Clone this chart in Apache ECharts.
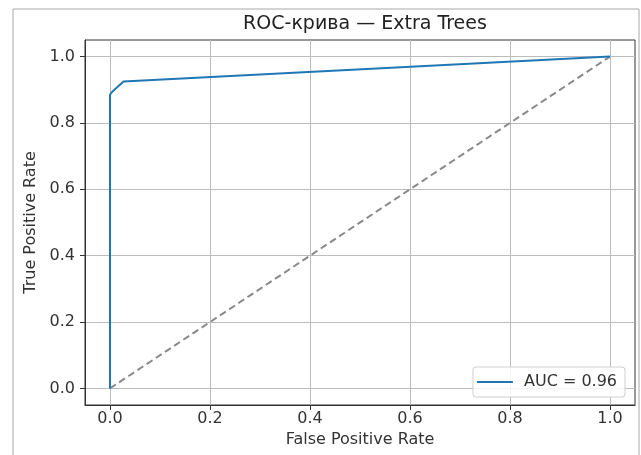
<!DOCTYPE html>
<html>
<head>
<meta charset="utf-8">
<script src="https://cdn.jsdelivr.net/npm/echarts@6/dist/echarts.min.js"></script>
<style>
  html, body { margin: 0; padding: 0; background: #fff; }
  #chart { width: 641px; height: 455px; }
</style>
</head>
<body>
<div id="chart"></div>
<script>
// ROC curve points
const fpr = [0, 0, 0.005, 0.027, 1]
const tpr = [0, 0.885, 0.895, 0.925, 1]
// chance line
const chanceX = [0, 1]
const chanceY = [0, 1]
const tickValues = [0, 0.2, 0.4, 0.6, 0.8, 1.0]
const aucLabel = 'AUC = 0.96'

const font = 'DejaVu Sans'
const chart = echarts.init(document.getElementById('chart'))

const axisCommon = {
  type: 'value',
  min: -0.05,
  max: 1.05,
  nameLocation: 'middle',
  nameTextStyle: { color: '#333', fontSize: 16, fontFamily: font },
  axisLine: { show: true, onZero: false, lineStyle: { color: '#333', width: 1 } },
  axisTick: { show: true, inside: false, length: 5, customValues: tickValues, lineStyle: { color: '#333' } },
  axisLabel: {
    customValues: tickValues,
    color: '#333',
    fontSize: 16,
    fontFamily: font,
    margin: 6,
    formatter: v => v.toFixed(1)
  },
  splitLine: { show: true, lineStyle: { color: '#bcbcbc', width: 1 } }
}

const option = {
  animation: false,
  backgroundColor: '#fff',
  title: {
    text: 'ROC-крива — Extra Trees',
    left: 360,
    textAlign: 'center',
    top: 10,
    textStyle: { color: '#222', fontSize: 19, fontWeight: 'normal', fontFamily: font }
  },
  graphic: [
    {
      type: 'rect',
      shape: { x: 13, y: 9, width: 626, height: 460 },
      style: { fill: 'none', stroke: '#a8a8a8', lineWidth: 1 },
      silent: true
    }
  ],
  grid: {
    left: 85,
    right: 6,
    top: 40,
    bottom: 50,
    show: true,
    borderColor: '#333',
    borderWidth: 1
  },
  legend: {
    data: [{ name: aucLabel, icon: 'rect' }],
    right: 16,
    bottom: 58,
    orient: 'vertical',
    itemWidth: 36,
    itemHeight: 2,
    padding: [7, 8, 7, 4],
    borderColor: '#d0d0d0',
    borderWidth: 1,
    borderRadius: 3,
    backgroundColor: 'rgba(255,255,255,0.85)',
    textStyle: { color: '#333', fontSize: 16, fontFamily: font, padding: [0, 0, 0, 6] }
  },
  xAxis: Object.assign({}, axisCommon, {
    name: 'False Positive Rate',
    nameGap: 27
  }),
  yAxis: Object.assign({}, axisCommon, {
    name: 'True Positive Rate',
    nameGap: 45,
    axisLabel: Object.assign({}, axisCommon.axisLabel, { margin: 10 })
  }),
  series: [
    {
      name: aucLabel,
      type: 'line',
      data: fpr.map((x, i) => [x, tpr[i]]),
      symbol: 'none',
      lineStyle: { color: '#1f77b4', width: 2 },
      itemStyle: { color: '#1f77b4' },
      z: 3
    },
    {
      name: 'chance',
      type: 'line',
      data: chanceX.map((x, i) => [x, chanceY[i]]),
      symbol: 'none',
      lineStyle: { color: '#8a8a8a', width: 2, type: [7, 4] },
      itemStyle: { color: '#8a8a8a' },
      z: 2
    }
  ]
}

chart.setOption(option)
</script>
</body>
</html>
